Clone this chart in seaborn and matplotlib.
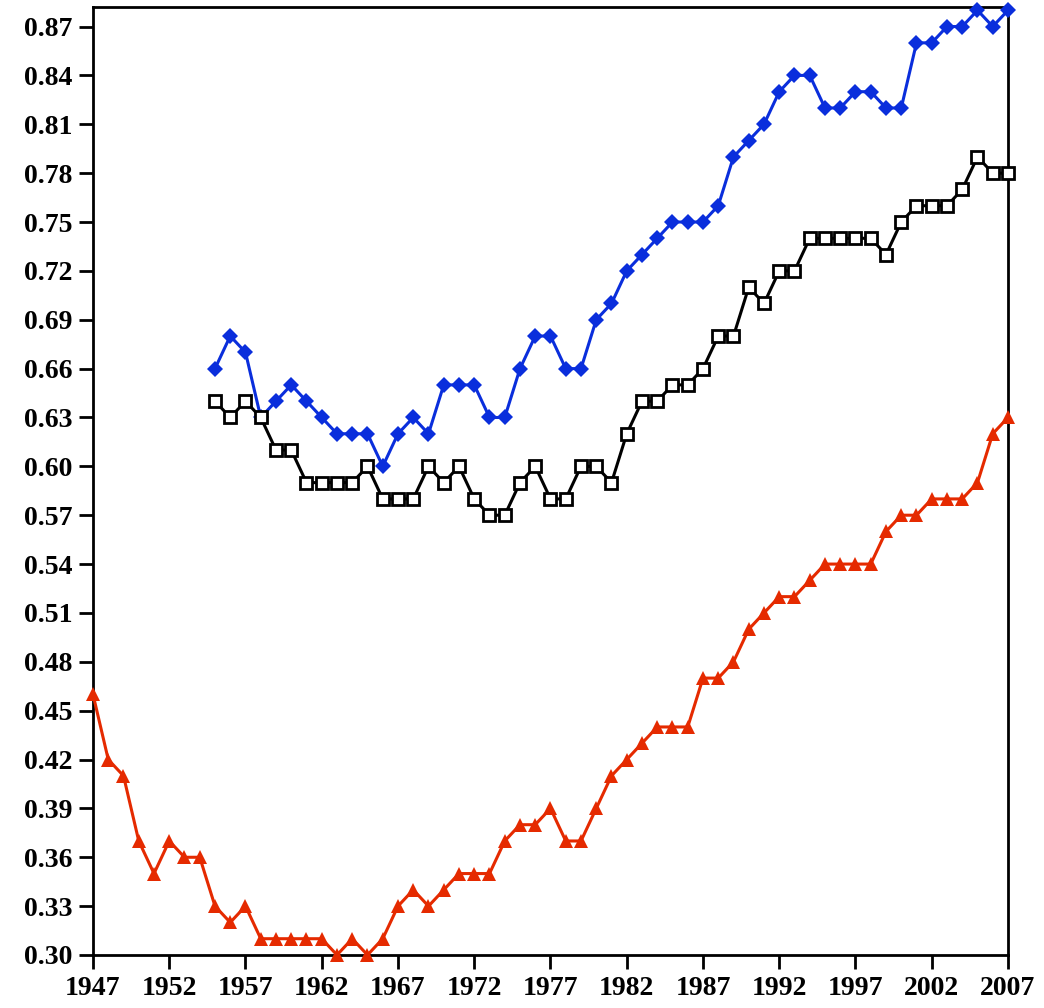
import matplotlib
matplotlib.use("Agg")
import matplotlib.pyplot as plt
import numpy as np
import pandas as pd
import seaborn as sns

# Data
years_red = list(range(1947, 2008))
red = [0.46, 0.42, 0.41, 0.37, 0.35, 0.37, 0.36, 0.36, 0.33, 0.32,
       0.33, 0.31, 0.31, 0.31, 0.31, 0.31, 0.30, 0.31, 0.30, 0.31,
       0.33, 0.34, 0.33, 0.34, 0.35, 0.35, 0.35, 0.37, 0.38, 0.38,
       0.39, 0.37, 0.37, 0.39, 0.41, 0.42, 0.43, 0.44, 0.44, 0.44,
       0.47, 0.47, 0.48, 0.50, 0.51, 0.52, 0.52, 0.53, 0.54, 0.54,
       0.54, 0.54, 0.56, 0.57, 0.57, 0.58, 0.58, 0.58, 0.59, 0.62,
       0.63]

years_short = list(range(1955, 2008))
blue = [0.66, 0.68, 0.67, 0.63, 0.64, 0.65, 0.64, 0.63, 0.62, 0.62,
        0.62, 0.60, 0.62, 0.63, 0.62, 0.65, 0.65, 0.65, 0.63, 0.63,
        0.66, 0.68, 0.68, 0.66, 0.66, 0.69, 0.70, 0.72, 0.73, 0.74,
        0.75, 0.75, 0.75, 0.76, 0.79, 0.80, 0.81, 0.83, 0.84, 0.84,
        0.82, 0.82, 0.83, 0.83, 0.82, 0.82, 0.86, 0.86, 0.87, 0.87,
        0.88, 0.87, 0.88]
black = [0.64, 0.63, 0.64, 0.63, 0.61, 0.61, 0.59, 0.59, 0.59, 0.59,
         0.60, 0.58, 0.58, 0.58, 0.60, 0.59, 0.60, 0.58, 0.57, 0.57,
         0.59, 0.60, 0.58, 0.58, 0.60, 0.60, 0.59, 0.62, 0.64, 0.64,
         0.65, 0.65, 0.66, 0.68, 0.68, 0.71, 0.70, 0.72, 0.72, 0.74,
         0.74, 0.74, 0.74, 0.74, 0.73, 0.75, 0.76, 0.76, 0.76, 0.77,
         0.79, 0.78, 0.78]

x_ticks = list(range(1947, 2008, 5))
y_ticks = [round(v, 2) for v in np.arange(0.30, 0.8701, 0.03)]

df_red = pd.DataFrame({"year": years_red, "value": red})
df_short = pd.DataFrame({"year": years_short, "blue": blue, "black": black})

sns.set_style("white")
plt.rcParams['font.family'] = ['Liberation Serif', 'DejaVu Serif']

fig = plt.figure(figsize=(10.44, 10.08), dpi=100)
ax = fig.add_axes([93 / 1044, 1 - 955 / 1008, 915 / 1044, 948 / 1008])

sns.lineplot(data=df_red, x="year", y="value", ax=ax, color="#e52a00",
             linewidth=2.2, marker="^", markersize=10, markeredgewidth=0,
             zorder=3)
sns.lineplot(data=df_short, x="year", y="blue", ax=ax, color="#0a2edc",
             linewidth=2.2, marker="D", markersize=8, markeredgewidth=0,
             zorder=4)
sns.lineplot(data=df_short, x="year", y="black", ax=ax, color="black",
             linewidth=2.2, marker="s", markersize=9, markerfacecolor="white",
             markeredgecolor="black", markeredgewidth=2, zorder=5)

ax.set_xlim(1947, 2007)
ax.set_ylim(0.30, 0.882)
ax.set_xticks(x_ticks)
ax.set_yticks(y_ticks)
ax.set_yticklabels([f"{v:.2f}" for v in y_ticks])
ax.set_xlabel("")
ax.set_ylabel("")

for s in ax.spines.values():
    s.set_visible(True)
    s.set_linewidth(2)
    s.set_color("black")

ax.tick_params(axis="both", direction="out", length=10, width=2,
               labelsize=20, colors="black", pad=5)
ax.tick_params(top=False, right=False, bottom=True, left=True)
for lbl in ax.get_xticklabels() + ax.get_yticklabels():
    lbl.set_fontweight("bold")

for line in ax.get_lines():
    line.set_clip_on(False)

fig.savefig("out.png", dpi=100)
